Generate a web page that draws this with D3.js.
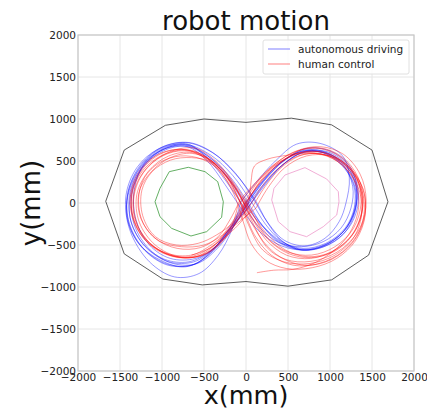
<!DOCTYPE html>
<html>
<head>
<meta charset="utf-8">
<script src="https://cdn.jsdelivr.net/npm/d3@7"></script>
<style>
  body { margin: 0; background: #fff; }
  text { font-family: "DejaVu Sans", sans-serif; }
</style>
</head>
<body>
<div id="chart"></div>
<script>
// axis ticks
const ticks = [-2000, -1500, -1000, -500, 0, 500, 1000, 1500, 2000];

// outer boundary (black)
const boundary = [[-1670, 20], [-1450, 630], [-960, 925], [-500, 1000], [0, 960], [540, 1010],
  [1020, 930], [1500, 630], [1690, 15], [1460, -620], [1020, -915], [500, -990], [0, -935],
  [-520, -975], [-990, -905], [-1450, -605], [-1670, 20]];

// left obstacle (green)
const leftPost = [[-687, 425], [-488, 373], [-337, 254], [-270, 15], [-290, -171], [-468, -341],
  [-655, -393], [-885, -302], [-1024, -163], [-1083, 15], [-1024, 175], [-913, 373], [-687, 425]];

// right obstacle (pink)
const rightPost = [[702, 421], [960, 286], [1099, 135], [1107, 15], [1080, -143], [920, -282],
  [722, -401], [524, -341], [385, -222], [306, 36], [333, 175], [464, 333], [702, 421]];

// autonomous driving laps
const autoLaps = [
  [[0,0],[200,260],[410,480],[660,610],[910,600],[1130,460],[1280,220],[1290,-50],[1180,-300],[950,-480],[680,-540],[420,-460],[200,-270],[10,-10],[-190,280],[-430,540],[-700,690],[-980,640],[-1230,440],[-1380,130],[-1370,-220],[-1200,-520],[-920,-700],[-620,-700],[-380,-540],[-170,-270],[0,0]],
  [[-40,-40],[170,230],[400,470],[680,620],[950,590],[1170,430],[1300,180],[1290,-90],[1160,-340],[930,-500],[660,-550],[420,-450],[230,-250],[60,20],[-160,330],[-420,570],[-720,700],[-1010,650],[-1260,430],[-1410,100],[-1390,-260],[-1210,-560],[-930,-740],[-620,-730],[-400,-560],[-200,-300],[-40,-40]],
  [[40,30],[240,290],[450,500],[700,630],[960,600],[1160,450],[1270,200],[1250,-60],[1130,-300],[920,-460],[660,-520],[390,-470],[170,-300],[-30,-40],[-230,250],[-460,530],[-690,700],[-960,660],[-1210,470],[-1330,160],[-1310,-200],[-1150,-500],[-900,-660],[-600,-660],[-350,-510],[-140,-240],[40,30]],
  [[-60,20],[140,270],[350,500],[600,700],[880,710],[1150,560],[1230,300],[1190,0],[1110,-220],[940,-420],[700,-510],[450,-440],[250,-220],[80,60],[-130,360],[-400,600],[-720,720],[-1050,640],[-1300,420],[-1430,80],[-1380,-330],[-1150,-700],[-850,-880],[-560,-840],[-330,-620],[-160,-300],[-60,20]],
  [[20,-60],[210,210],[430,450],[670,600],[920,610],[1160,480],[1300,250],[1310,-20],[1200,-290],[980,-480],[720,-560],[420,-510],[150,-330],[-60,-60],[-250,220],[-470,510],[-700,670],[-950,650],[-1200,490],[-1370,210],[-1420,-150],[-1280,-480],[-1020,-680],[-720,-760],[-450,-620],[-220,-340],[20,-60]],
  [[60,60],[250,310],[470,520],[720,650],[1000,620],[1220,460],[1320,200],[1300,-80],[1170,-330],[950,-500],[680,-560],[410,-480],[210,-290],[20,10],[-180,300],[-440,550],[-730,690],[-1000,630],[-1240,410],[-1360,100],[-1330,-260],[-1140,-560],[-870,-720],[-580,-720],[-340,-540],[-120,-240],[60,60]],
  [[-20,-80],[190,200],[420,440],[680,600],[960,590],[1190,440],[1310,190],[1300,-100],[1160,-370],[930,-520],[660,-560],[440,-460],[260,-240],[100,50],[-120,340],[-380,590],[-680,720],[-990,670],[-1250,460],[-1400,150],[-1400,-200],[-1240,-520],[-960,-720],[-640,-740],[-400,-580],[-190,-330],[-20,-80]],
  [[80,20],[270,270],[480,490],[720,620],[970,610],[1190,470],[1320,230],[1330,-40],[1220,-300],[990,-490],[710,-560],[430,-480],[180,-260],[-10,-20],[-200,270],[-430,520],[-680,670],[-940,640],[-1190,470],[-1350,190],[-1380,-170],[-1230,-480],[-970,-670],[-680,-700],[-420,-570],[-170,-300],[80,20]]
];

// human control laps
const humanLaps = [
  [[0,-20],[160,250],[380,470],[640,600],[930,600],[1180,470],[1350,220],[1380,-80],[1260,-380],[1020,-580],[740,-640],[470,-560],[240,-360],[30,-60],[-170,240],[-400,480],[-650,540],[-900,510],[-1120,370],[-1240,150],[-1230,-150],[-1080,-400],[-830,-500],[-570,-480],[-350,-380],[-140,-220],[0,-20]],
  [[60,-80],[230,200],[440,440],[700,580],[990,560],[1230,410],[1400,150],[1410,-170],[1270,-470],[1000,-680],[700,-740],[420,-650],[200,-450],[40,-150],[-120,180],[-330,470],[-600,650],[-880,620],[-1150,450],[-1320,180],[-1330,-160],[-1170,-450],[-900,-620],[-620,-630],[-380,-500],[-130,-300],[60,-80]],
  [[-70,40],[110,240],[300,430],[560,600],[860,650],[1130,540],[1320,300],[1370,0],[1280,-300],[1060,-520],[780,-620],[490,-580],[260,-420],[80,-130],[-110,190],[-360,470],[-640,590],[-900,540],[-1120,380],[-1270,140],[-1260,-160],[-1080,-420],[-820,-540],[-540,-530],[-330,-400],[-180,-180],[-70,40]],
  [[-60,-200],[30,0],[60,250],[100,440],[250,520],[500,570],[800,600],[1080,520],[1300,300],[1390,0],[1300,-330],[1080,-560],[780,-650],[500,-600],[260,-430],[60,-150],[-130,180],[-370,460],[-640,600],[-920,560],[-1160,380],[-1300,100],[-1270,-230],[-1080,-500],[-800,-640],[-530,-620],[-300,-460],[-110,-220],[20,0]],
  [[0,0],[180,260],[410,480],[680,640],[960,640],[1200,500],[1360,240],[1390,-60],[1280,-360],[1060,-560],[770,-660],[480,-620],[240,-440],[60,-160],[-110,150],[-300,400],[-530,580],[-800,620],[-1060,520],[-1260,300],[-1340,0],[-1260,-330],[-1040,-560],[-760,-650],[-480,-610],[-250,-420],[-80,-170],[0,0]],
  [[20,-80],[170,170],[370,400],[620,560],[900,580],[1150,450],[1330,200],[1380,-100],[1290,-400],[1060,-620],[760,-720],[450,-700],[200,-560],[30,-260],[-100,80],[-280,360],[-520,520],[-780,560],[-1030,480],[-1210,300],[-1280,40],[-1220,-250],[-1040,-450],[-770,-520],[-500,-500],[-280,-380],[-100,-200],[20,-80]],
  [[-20,-20],[150,220],[360,440],[610,590],[880,610],[1140,500],[1330,270],[1410,-20],[1350,-330],[1150,-580],[870,-720],[560,-740],[300,-620],[100,-380],[-30,-80],[-180,200],[-420,480],[-700,630],[-980,600],[-1220,420],[-1360,120],[-1330,-210],[-1150,-480],[-880,-630],[-600,-640],[-370,-500],[-170,-270],[-20,-20]],
  [[120,-60],[260,180],[460,420],[720,560],[1000,560],[1240,420],[1390,170],[1420,-140],[1310,-440],[1080,-660],[790,-770],[480,-780],[230,-680],[60,-480],[-40,-200],[-150,120],[-350,430],[-620,620],[-920,600],[-1180,440],[-1340,180],[-1350,-150],[-1200,-440],[-940,-600],[-650,-620],[-400,-490],[-150,-280],[120,-60]],
  [[-100,-40],[90,200],[330,450],[600,620],[890,670],[1160,580],[1360,340],[1430,30],[1360,-290],[1150,-540],[850,-680],[540,-690],[290,-570],[120,-330],[-60,0],[-240,330],[-500,560],[-790,640],[-1080,560],[-1300,330],[-1380,20],[-1300,-300],[-1090,-540],[-800,-650],[-520,-620],[-300,-470],[-160,-250],[-100,-40]],
  [[130,-830],[330,-800],[560,-790],[800,-720],[1030,-580],[1220,-380],[1330,-120],[1330,150],[1200,400],[960,560],[680,590],[420,500],[180,300],[0,40],[-180,-250],[-400,-520],[-650,-620]]
];

const legendItems = [
  { label: "autonomous driving", color: "#0000ff" },
  { label: "human control", color: "#ff0000" }
];

const width = 427, height = 409;
const margin = { top: 35, right: 13, bottom: 38, left: 78 };

const svg = d3.select("#chart")
  .append("svg")
  .attr("width", width)
  .attr("height", height);

const x = d3.scaleLinear().domain([-2000, 2000]).range([margin.left, width - margin.right]);
const y = d3.scaleLinear().domain([-2000, 2000]).range([height - margin.bottom, margin.top]);

// grid
svg.append("g")
  .selectAll("line")
  .data(ticks)
  .enter().append("line")
  .attr("x1", d => x(d)).attr("x2", d => x(d))
  .attr("y1", y(-2000)).attr("y2", y(2000))
  .attr("stroke", "#e6e6e6").attr("stroke-width", 1);

svg.append("g")
  .selectAll("line")
  .data(ticks)
  .enter().append("line")
  .attr("y1", d => y(d)).attr("y2", d => y(d))
  .attr("x1", x(-2000)).attr("x2", x(2000))
  .attr("stroke", "#e6e6e6").attr("stroke-width", 1);

// axes (no tick marks, labels only)
const fmt = d3.format("d");
const xAxis = svg.append("g")
  .attr("transform", `translate(0,${y(-2000)})`)
  .call(d3.axisBottom(x).tickValues(ticks).tickFormat(fmt).tickSize(0).tickPadding(3));
const yAxis = svg.append("g")
  .attr("transform", `translate(${x(-2000)},0)`)
  .call(d3.axisLeft(y).tickValues(ticks).tickFormat(fmt).tickSize(0).tickPadding(2));

[xAxis, yAxis].forEach(g => {
  g.select(".domain").remove();
  g.selectAll("text")
    .attr("font-family", "DejaVu Sans, sans-serif")
    .attr("font-size", 10.5)
    .attr("fill", "#222");
});

const line = d3.line()
  .x(d => x(d[0]))
  .y(d => y(d[1]));

const smooth = d3.line()
  .x(d => x(d[0]))
  .y(d => y(d[1]))
  .curve(d3.curveCatmullRom.alpha(0.5));

// boundary and obstacles
svg.append("path").datum(boundary)
  .attr("fill", "none").attr("stroke", "#333").attr("stroke-width", 0.8)
  .attr("d", line);
svg.append("path").datum(leftPost)
  .attr("fill", "none").attr("stroke", "#3c9a3c").attr("stroke-width", 0.8)
  .attr("d", line);
svg.append("path").datum(rightPost)
  .attr("fill", "none").attr("stroke", "#ee99cc").attr("stroke-width", 0.8)
  .attr("d", line);

// trajectories
svg.append("g").selectAll("path")
  .data(autoLaps)
  .enter().append("path")
  .attr("fill", "none")
  .attr("stroke", "#0000ff")
  .attr("stroke-opacity", 0.5)
  .attr("stroke-width", 0.8)
  .attr("d", smooth);

svg.append("g").selectAll("path")
  .data(humanLaps)
  .enter().append("path")
  .attr("fill", "none")
  .attr("stroke", "#ff0000")
  .attr("stroke-opacity", 0.5)
  .attr("stroke-width", 0.8)
  .attr("d", smooth);

// frame
svg.append("rect")
  .attr("x", x(-2000)).attr("y", y(2000))
  .attr("width", x(2000) - x(-2000))
  .attr("height", y(-2000) - y(2000))
  .attr("fill", "none")
  .attr("stroke", "#c8c8c8")
  .attr("stroke-width", 1.2);

// legend
const legend = svg.append("g").attr("transform", "translate(263,40)");
legend.append("rect")
  .attr("width", 146).attr("height", 34)
  .attr("rx", 2)
  .attr("fill", "#fff").attr("fill-opacity", 0.8)
  .attr("stroke", "#e0e0e0");
legendItems.forEach((d, i) => {
  const row = legend.append("g").attr("transform", `translate(0,${9 + i * 15})`);
  row.append("line")
    .attr("x1", 5).attr("x2", 27)
    .attr("stroke", d.color).attr("stroke-opacity", 0.5).attr("stroke-width", 1);
  row.append("text")
    .attr("x", 35).attr("y", 3.5)
    .attr("font-size", 10.5)
    .attr("fill", "#222")
    .text(d.label);
});

// titles
svg.append("text")
  .attr("x", x(0)).attr("y", 30)
  .attr("text-anchor", "middle")
  .attr("font-size", 26)
  .attr("fill", "#111")
  .text("robot motion");

svg.append("text")
  .attr("x", x(0)).attr("y", 404)
  .attr("text-anchor", "middle")
  .attr("font-size", 25.5)
  .attr("fill", "#111")
  .text("x(mm)");

svg.append("text")
  .attr("transform", `translate(40,${y(0)}) rotate(-90)`)
  .attr("text-anchor", "middle")
  .attr("font-size", 26)
  .attr("fill", "#111")
  .text("y(mm)");
</script>
</body>
</html>
